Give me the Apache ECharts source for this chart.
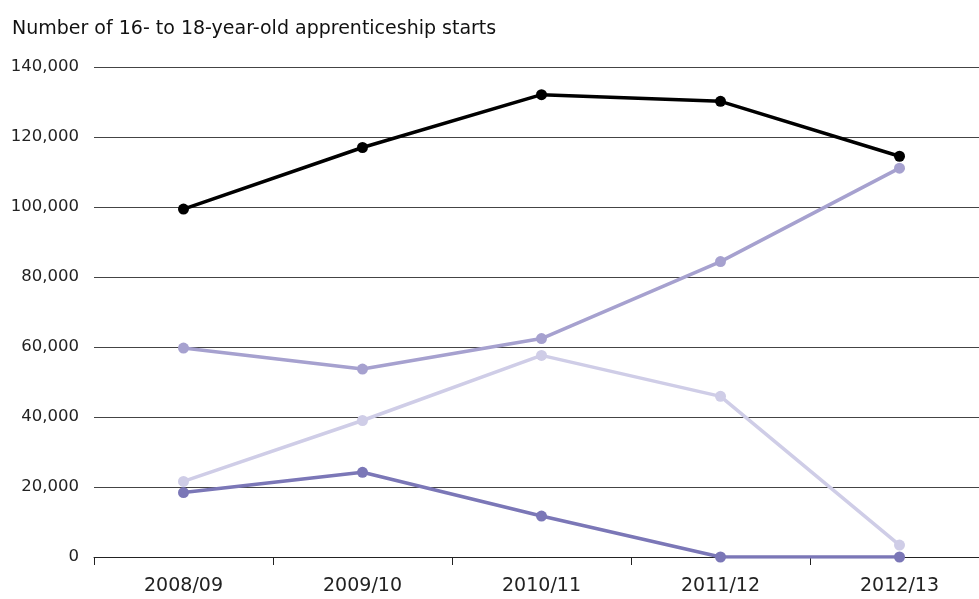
<!DOCTYPE html>
<html>
<head>
<meta charset="utf-8">
<script src="https://cdn.jsdelivr.net/npm/echarts@6/dist/echarts.min.js"></script>
<style>
html,body{margin:0;padding:0;background:#fff;}
#chart{width:979px;height:599px;}
</style>
</head>
<body>
<div id="chart"></div>
<script>
const categories = ['2008/09', '2009/10', '2010/11', '2011/12', '2012/13'];
const totalStarts = [99400, 117000, 132100, 130200, 114500];
const seriesMedium = [59700, 53700, 62400, 84400, 111100];
const seriesLight = [21600, 39000, 57600, 45900, 3400];
const seriesDark = [18400, 24200, 11700, 0, 0];
const yTicks = { min: 0, max: 140000, interval: 20000 };

const font = '"DejaVu Sans", sans-serif';
function line(name, data, color, z) {
  return {
    name: name, type: 'line', data: data, z: z,
    symbol: 'circle', symbolSize: 11,
    lineStyle: { color: color, width: 3.5 },
    itemStyle: { color: color },
    animation: false
  };
}
const chart = echarts.init(document.getElementById('chart'));
chart.setOption({
  animation: false,
  title: {
    text: 'Number of 16- to 18-year-old apprenticeship starts',
    left: 12, top: 20, padding: 0,
    textStyle: { fontFamily: font, fontSize: 19, fontWeight: 'normal', color: '#111' }
  },
  grid: { left: 94, width: 895, top: 67, bottom: 42, containLabel: false, outerBoundsMode: 'none' },
  xAxis: {
    type: 'category', data: categories, boundaryGap: true,
    axisLine: { lineStyle: { color: '#222', width: 1 } },
    axisTick: { show: true, length: 8, lineStyle: { color: '#222' } },
    axisLabel: { fontFamily: font, fontSize: 19, color: '#222', margin: 20 }
  },
  yAxis: {
    type: 'value', min: yTicks.min, max: yTicks.max, interval: yTicks.interval,
    axisLine: { show: false }, axisTick: { show: false },
    axisLabel: {
      fontFamily: font, fontSize: 16.5, color: '#222', margin: 15,
      formatter: v => v.toLocaleString('en-US')
    },
    splitLine: { lineStyle: { color: '#444', width: 1 } }
  },
  series: [
    line('Light', seriesLight, '#cfcde7', 2),
    line('Dark', seriesDark, '#7b77b7', 3),
    line('Medium', seriesMedium, '#a6a1cf', 4),
    line('Total', totalStarts, '#000000', 5)
  ]
});
</script>
</body>
</html>
